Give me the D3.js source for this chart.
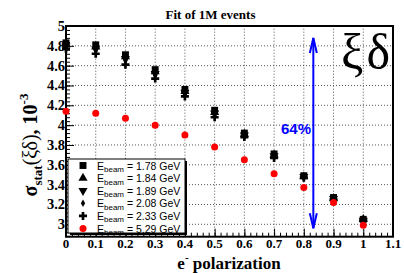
<!DOCTYPE html>
<html><head><meta charset="utf-8">
<script src="https://cdn.jsdelivr.net/npm/d3@7"></script>
<style>body{margin:0;background:#fff}svg{display:block}</style>
</head><body>
<script>
const polarization = [0,0.1,0.2,0.3,0.4,0.5,0.6,0.7,0.8,0.9,1.0];
const s178 = [4.83,4.81,4.71,4.56,4.36,4.15,3.92,3.71,3.49,3.27,3.05];
const s184 = [4.81,4.79,4.69,4.54,4.34,4.13,3.91,3.70,3.48,3.26,3.05];
const s189 = [4.80,4.77,4.67,4.52,4.33,4.12,3.90,3.69,3.48,3.26,3.04];
const s208 = [4.79,4.75,4.65,4.50,4.31,4.10,3.89,3.68,3.47,3.25,3.04];
const s233 = [4.77,4.72,4.61,4.47,4.29,4.08,3.88,3.67,3.47,3.25,3.04];
const s529 = [4.14,4.12,4.07,4.00,3.90,3.78,3.65,3.51,3.37,3.22,2.99];
const legendLabels = ["1.78","1.84","1.89","2.08","2.33","5.29"];
const xTicks = [0,0.1,0.2,0.3,0.4,0.5,0.6,0.7,0.8,0.9,1,1.1];
const yTicks = [3,3.2,3.4,3.6,3.8,4,4.2,4.4,4.6,4.8,5];
const arrowX = 0.832, arrowLo = 2.96, arrowHi = 4.88;

const W=404,H=273;
const svg=d3.select("body").append("svg").attr("width",W).attr("height",H);
const x=d3.scaleLinear().domain([0,1.1]).range([66,393]);
const y=d3.scaleLinear().domain([2.875,5]).range([236.7,26]);
const serif="'Liberation Serif','Times New Roman',serif";
const sans="'Liberation Sans',Arial,sans-serif";
const fmt=d=> (Math.abs(d-Math.round(d))<1e-9 ? String(Math.round(d)) : d.toFixed(1));

// grid
const g=svg.append("g");
g.selectAll("line.gx").data(xTicks.slice(1,-1)).enter().append("line")
 .attr("x1",d=>x(d)).attr("x2",d=>x(d)).attr("y1",y.range()[0]).attr("y2",y.range()[1])
 .attr("stroke","#555").attr("stroke-width",1).attr("stroke-dasharray","1,2");
g.selectAll("line.gy").data(yTicks.slice(0,-1)).enter().append("line")
 .attr("y1",d=>y(d)).attr("y2",d=>y(d)).attr("x1",x.range()[0]).attr("x2",x.range()[1])
 .attr("stroke","#555").attr("stroke-width",1).attr("stroke-dasharray","1,2");

// axes (ticks inward)
const xMinor=d3.range(0,1.1001,0.02);
const yMinor=d3.range(2.88,5.0001,0.04);
function noDomain(a){a.select(".domain").remove();a.selectAll(".tick line").attr("stroke","#000");}
svg.append("g").attr("transform",`translate(0,${y.range()[0]})`)
 .call(d3.axisTop(x).tickValues(xMinor).tickSize(4).tickFormat("")).call(noDomain);
svg.append("g").attr("transform",`translate(0,${y.range()[0]})`)
 .call(d3.axisTop(x).tickValues(xTicks).tickSize(8).tickFormat("")).call(noDomain);
svg.append("g").attr("transform",`translate(${x.range()[0]},0)`)
 .call(d3.axisRight(y).tickValues(yMinor).tickSize(4).tickFormat("")).call(noDomain);
svg.append("g").attr("transform",`translate(${x.range()[0]},0)`)
 .call(d3.axisRight(y).tickValues(yTicks).tickSize(8).tickFormat("")).call(noDomain);

// frame
svg.append("rect").attr("x",x.range()[0]).attr("y",y.range()[1])
 .attr("width",x.range()[1]-x.range()[0]).attr("height",y.range()[0]-y.range()[1])
 .attr("fill","none").attr("stroke","#000").attr("stroke-width",2);

// tick labels
svg.append("g").selectAll("text").data(xTicks).enter().append("text")
 .attr("x",d=>x(d)).attr("y",248).attr("text-anchor","middle")
 .attr("font-family",serif).attr("font-weight","bold").attr("font-size",13)
 .text(fmt);
svg.append("g").selectAll("text").data(yTicks).enter().append("text")
 .attr("x",65).attr("y",d=>y(d)+5).attr("text-anchor","end")
 .attr("font-family",serif).attr("font-weight","bold").attr("font-size",14.5)
 .text(fmt);

// title
svg.append("text").attr("x",210.5).attr("y",19).attr("text-anchor","middle")
 .attr("font-family",serif).attr("font-weight","bold").attr("font-size",13)
 .text("Fit of 1M events");

// x title
const xt=svg.append("text").attr("x",229).attr("y",269).attr("text-anchor","middle")
 .attr("font-family",serif).attr("font-weight","bold").attr("font-size",17);
xt.append("tspan").text("e");
xt.append("tspan").attr("font-size",11).attr("dy",-8).text("-");
xt.append("tspan").attr("dy",8).text(" polarization");

// y title
const yt=svg.append("text").attr("transform","translate(37,145) rotate(-90)").attr("text-anchor","middle")
 .attr("font-family",serif).attr("font-weight","bold").attr("font-size",20);
yt.append("tspan").text("σ");
yt.append("tspan").attr("font-size",13).attr("dy",5).text("stat");
yt.append("tspan").attr("dy",-5).attr("font-weight","normal").text("(ξδ)");
yt.append("tspan").text(", 10");
yt.append("tspan").attr("font-size",13).attr("dy",-9).text("-3");

// markers
const sym={
 square:d3.symbol().type(d3.symbolSquare).size(48),
 tri:d3.symbol().type(d3.symbolTriangle).size(36),
 diamond:d3.symbol().type(d3.symbolDiamond).size(16),
 cross:d3.symbol().type(d3.symbolCross).size(36),
};
function drawSeries(vals,kind,color,rot){
 svg.append("g").selectAll("path").data(vals).enter().append("path")
  .attr("d",sym[kind]).attr("fill",color)
  .attr("transform",(d,i)=>`translate(${x(polarization[i])},${y(d)})${rot?" rotate(180)":""}`);
}
drawSeries(s233,"cross","#000");
drawSeries(s208,"diamond","#000");
drawSeries(s189,"tri","#000",true);
drawSeries(s184,"tri","#000");
drawSeries(s178,"square","#000");
svg.append("g").selectAll("circle").data(s529).enter().append("circle")
 .attr("cx",(d,i)=>x(polarization[i])).attr("cy",d=>y(d)).attr("r",3.5).attr("fill","#ff0000");

// arrow
const ax=x(arrowX), ay1=y(arrowHi), ay2=y(arrowLo);
svg.append("line").attr("x1",ax).attr("x2",ax).attr("y1",ay1).attr("y2",ay2)
 .attr("stroke","#0000ff").attr("stroke-width",2);
svg.append("path").attr("d",`M${ax-3.5},${ay1+15}L${ax},${ay1}L${ax+3.5},${ay1+15}`)
 .attr("fill","none").attr("stroke","#0000ff").attr("stroke-width",2);
svg.append("path").attr("d",`M${ax-3.5},${ay2-15}L${ax},${ay2}L${ax+3.5},${ay2-15}`)
 .attr("fill","none").attr("stroke","#0000ff").attr("stroke-width",2);
svg.append("text").attr("x",311).attr("y",134).attr("text-anchor","end")
 .attr("font-family",sans).attr("font-weight","bold").attr("font-size",15)
 .attr("fill","#0000ff").text("64%");

// xi delta
svg.append("text").attr("x",341).attr("y",69).attr("text-anchor","start")
 .attr("font-family",serif).attr("font-size",50).attr("textLength",49).text("ξδ");

// legend
const lg=svg.append("g");
lg.append("rect").attr("x",70).attr("y",161).attr("width",117).attr("height",74).attr("fill","#000");
lg.append("rect").attr("x",68).attr("y",159).attr("width",117).attr("height",74)
 .attr("fill","#fff").attr("stroke","#000").attr("stroke-width",1);
const kinds=[["square",false],["tri",false],["tri",true],["diamond",false],["cross",false],["circle",false]];
legendLabels.forEach((lab,i)=>{
 const cy=165.5+i*12.6;
 const [k,r]=kinds[i];
 if(k==="circle") lg.append("circle").attr("cx",83).attr("cy",cy).attr("r",3.5).attr("fill","#ff0000");
 else lg.append("path").attr("d",sym[k]).attr("transform",`translate(83,${cy})${r?" rotate(180)":""}`);
 const t=lg.append("text").attr("x",97).attr("y",cy+4).attr("font-family",sans).attr("font-size",10.5);
 t.append("tspan").text("E");
 t.append("tspan").attr("font-size",8).attr("dy",2.5).text("beam");
 t.append("tspan").attr("dy",-2.5).text(` = ${lab} GeV`);
});
</script>
</body></html>
